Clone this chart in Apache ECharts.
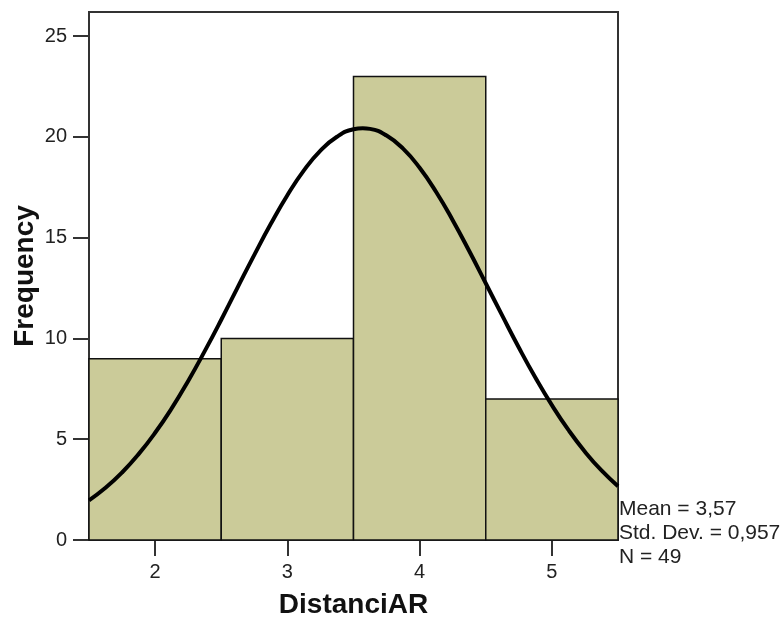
<!DOCTYPE html>
<html><head><meta charset="utf-8">
<script src="https://cdn.jsdelivr.net/npm/echarts@6/dist/echarts.min.js"></script>
<style>html,body{margin:0;padding:0;background:#fff}#c{width:783px;height:619px}</style>
</head><body><div id="c"></div>
<script>
// Histogram bins: [start, end, frequency]
var binStarts = [1.5, 2.5, 3.5, 4.5];
var binEnds = [2.5, 3.5, 4.5, 5.5];
var frequencies = [9, 10, 23, 7];
var xTicks = [2, 3, 4, 5];
var yTicks = [0, 5, 10, 15, 20, 25];
// Normal curve points
var curveX = [1.5, 1.625, 1.75, 1.875, 2.0, 2.125, 2.25, 2.375, 2.5, 2.625, 2.75, 2.875, 3.0, 3.125, 3.25, 3.375, 3.5, 3.57, 3.625, 3.75, 3.875, 4.0, 4.125, 4.25, 4.375, 4.5, 4.625, 4.75, 4.875, 5.0, 5.125, 5.25, 5.375, 5.5];
var curveY = [1.97, 2.59, 3.35, 4.26, 5.32, 6.53, 7.89, 9.37, 10.93, 12.55, 14.15, 15.69, 17.11, 18.34, 19.32, 20.01, 20.38, 20.43, 20.40, 20.07, 19.42, 18.47, 17.27, 15.87, 14.34, 12.74, 11.13, 9.55, 8.06, 6.69, 5.46, 4.38, 3.45, 2.67];
var statsLines = ['Mean = 3,57', 'Std. Dev. = 0,957', 'N = 49'];

var barData = binStarts.map(function (s, i) { return [s, binEnds[i], frequencies[i]]; });
var curveData = curveX.map(function (x, i) { return [x, curveY[i]]; });

var chart = echarts.init(document.getElementById('c'));
chart.setOption({
  animation: false,
  backgroundColor: '#fff',
  grid: { left: 89, top: 12, right: 165, bottom: 79, containLabel: false, outerBoundsMode: 'none', show: true, borderColor: '#333', borderWidth: 2, backgroundColor: 'transparent' },
  xAxis: {
    type: 'value', min: 1.5, max: 5.5,
    name: 'DistanciAR', nameLocation: 'middle', nameGap: 51,
    nameTextStyle: { fontFamily: 'Liberation Sans', fontWeight: 'bold', fontSize: 28, color: '#111' },
    axisLine: { show: true, onZero: false, lineStyle: { color: '#333', width: 2 } },
    axisTick: { show: true, length: 16, customValues: xTicks, lineStyle: { color: '#333', width: 2 } },
    axisLabel: { customValues: xTicks, margin: 22, fontFamily: 'Liberation Sans', fontSize: 20, color: '#222' },
    splitLine: { show: false }
  },
  yAxis: {
    type: 'value', min: 0, max: 26.2,
    name: 'Frequency', nameLocation: 'middle', nameGap: 50, nameRotate: 90, nameMoveOverlap: false,
    nameTextStyle: { fontFamily: 'Liberation Sans', fontWeight: 'bold', fontSize: 28, color: '#111' },
    axisLine: { show: true, lineStyle: { color: '#333', width: 2 } },
    axisTick: { show: true, length: 16, customValues: yTicks, lineStyle: { color: '#333', width: 2 } },
    axisLabel: { customValues: yTicks, margin: 22, fontFamily: 'Liberation Sans', fontSize: 20, color: '#222' },
    splitLine: { show: false }
  },
  series: [
    {
      type: 'custom',
      data: barData,
      encode: { x: [0, 1], y: 2 },
      renderItem: function (params, api) {
        var p0 = api.coord([api.value(0), api.value(2)]);
        var p1 = api.coord([api.value(1), 0]);
        return {
          type: 'rect',
          shape: { x: p0[0], y: p0[1], width: p1[0] - p0[0], height: p1[1] - p0[1] },
          style: { fill: '#CBCB99', stroke: '#111', lineWidth: 1.5 }
        };
      },
      z: 1
    },
    {
      type: 'line',
      data: curveData,
      smooth: true,
      showSymbol: false,
      lineStyle: { color: '#000', width: 4 },
      clip: true,
      z: 3
    }
  ],
  graphic: [{
    type: 'text', left: 619, top: 497,
    style: { text: statsLines.join('\n'), fontFamily: 'Liberation Sans', fontSize: 21, lineHeight: 24, fill: '#222' }
  }]
});
</script></body></html>
